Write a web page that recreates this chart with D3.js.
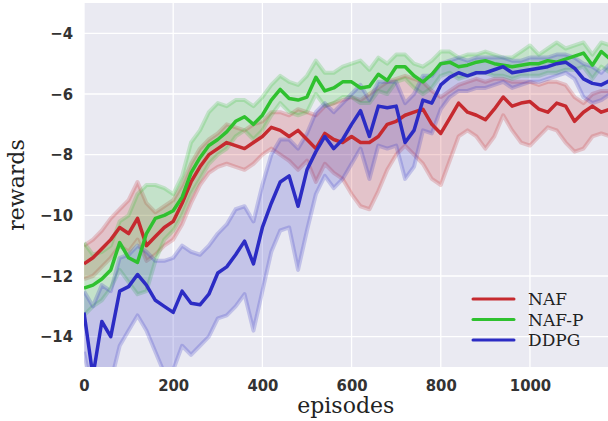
<!DOCTYPE html>
<html>
<head>
  <meta charset="UTF-8">
  <style>
    body { margin: 0; padding: 0; background: #fff; }
    svg { display: block; }
    .tick text { font-family: "DejaVu Sans Condensed", "DejaVu Sans", sans-serif; font-weight: bold; font-size: 16.5px; fill: #333; }
    .label { font-family: "DejaVu Serif", serif; font-size: 22px; fill: #222; }
    .legend text { font-family: "DejaVu Serif", serif; font-size: 17px; fill: #222; }
  </style>
</head>
<body>
  <svg width="608" height="421"></svg>
  <script src="https://d3js.org/d3.v7.min.js"></script>
  <script>
    // episodes sampled every 20
    const episodes = d3.range(0, 1181, 20);

    const nafMean = [-11.6,-11.4,-11.1,-10.8,-10.4,-10.6,-10.1,-11.0,-10.7,-10.4,-10.2,-9.6,-8.9,-8.4,-8.0,-7.8,-7.6,-7.7,-7.8,-7.6,
      -7.4,-7.1,-7.2,-7.4,-7.2,-7.5,-7.8,-7.3,-7.5,-7.6,-7.4,-7.6,-7.6,-7.4,-7.0,-6.9,-6.7,-6.6,-6.5,-7.0,
      -7.3,-6.8,-6.3,-6.6,-6.7,-6.85,-6.5,-6.1,-6.4,-6.3,-6.25,-6.5,-6.6,-6.3,-6.4,-6.9,-6.6,-6.4,-6.6,-6.5];
    const nafUpper = [-11.0,-10.8,-10.5,-10.1,-9.8,-9.5,-8.9,-9.6,-9.9,-9.7,-9.5,-9.0,-8.3,-7.8,-7.5,-7.3,-7.0,-7.1,-7.2,-7.0,
      -6.9,-6.6,-6.6,-6.7,-6.5,-6.6,-6.7,-6.4,-6.3,-6.2,-6.1,-6.2,-6.0,-5.8,-5.6,-5.5,-5.4,-5.5,-5.6,-5.9,
      -6.1,-5.9,-5.7,-5.6,-5.5,-5.6,-5.5,-5.5,-5.6,-5.6,-5.6,-5.7,-5.6,-5.6,-5.7,-6.1,-6.3,-6.0,-5.9,-5.9];
    const nafLower = [-12.1,-12.0,-11.7,-11.4,-11.0,-11.2,-10.8,-11.5,-11.3,-11.0,-10.8,-10.3,-9.6,-9.0,-8.6,-8.4,-8.3,-8.4,-8.5,-8.3,
      -8.0,-7.8,-8.0,-8.2,-8.5,-8.2,-8.9,-8.3,-8.6,-8.8,-9.3,-9.7,-9.8,-9.2,-8.5,-8.0,-7.7,-8.0,-8.3,-8.8,
      -9.0,-8.2,-7.4,-7.2,-7.4,-7.8,-7.4,-6.7,-7.2,-7.6,-7.7,-7.4,-7.1,-7.2,-7.6,-7.9,-7.8,-7.4,-7.3,-7.4];

    const nafpMean = [-12.4,-12.3,-12.1,-11.8,-10.9,-11.4,-11.55,-10.6,-10.1,-10.0,-9.85,-9.4,-8.6,-8.1,-7.7,-7.5,-7.25,-6.9,-6.75,-7.0,
      -6.7,-6.2,-5.85,-6.15,-6.2,-6.1,-5.45,-5.9,-5.8,-5.6,-5.6,-5.8,-5.75,-5.35,-5.55,-5.1,-5.1,-5.4,-5.6,-5.35,
      -5.0,-4.95,-5.1,-5.05,-4.95,-4.9,-5.0,-5.05,-5.1,-5.05,-5.0,-5.0,-4.9,-4.95,-4.85,-4.75,-4.65,-5.05,-4.6,-4.85];
    const nafpUpper = [-10.9,-11.3,-11.2,-11.0,-10.2,-10.0,-9.3,-9.0,-9.0,-9.1,-9.3,-8.7,-7.6,-7.2,-6.6,-6.3,-6.4,-6.2,-6.2,-6.4,
      -6.1,-5.7,-5.4,-5.6,-5.7,-5.4,-4.9,-5.3,-5.3,-5.1,-5.0,-4.9,-5.2,-4.8,-5.0,-4.7,-4.7,-5.0,-5.1,-4.9,
      -4.6,-4.6,-4.8,-4.7,-4.7,-4.6,-4.7,-4.8,-4.8,-4.6,-4.4,-4.7,-4.5,-4.3,-4.5,-4.4,-4.3,-4.7,-4.3,-4.4];
    const nafpLower = [-13.3,-13.0,-12.8,-12.4,-11.8,-12.2,-12.6,-12.5,-11.5,-10.8,-10.5,-10.0,-9.3,-8.8,-8.3,-8.0,-7.8,-7.4,-7.2,-7.5,
      -7.2,-6.7,-6.3,-6.6,-6.7,-6.6,-6.0,-6.4,-6.3,-6.1,-6.1,-6.3,-6.3,-5.9,-6.0,-5.6,-5.5,-5.8,-6.0,-5.8,
      -5.4,-5.3,-5.5,-5.4,-5.3,-5.3,-5.4,-5.4,-5.5,-5.4,-5.4,-5.4,-5.3,-5.3,-5.2,-5.2,-5.1,-5.5,-5.1,-5.3];

    const ddpgMean = [-13.2,-15.3,-13.5,-14.0,-12.5,-12.35,-11.95,-12.3,-12.8,-13.0,-13.2,-12.5,-12.9,-12.95,-12.6,-11.9,-11.7,-11.3,-10.85,-11.6,
      -10.4,-9.6,-8.9,-8.7,-9.7,-8.5,-7.9,-7.4,-7.8,-7.5,-7.0,-6.55,-7.4,-6.4,-6.45,-6.4,-7.6,-7.2,-6.2,-6.3,
      -5.7,-5.45,-5.3,-5.4,-5.3,-5.3,-5.2,-5.1,-5.3,-5.25,-5.2,-5.15,-5.1,-5.0,-4.95,-5.15,-5.5,-5.65,-5.7,-5.55];
    const ddpgUpper = [-12.5,-13.0,-12.3,-12.5,-11.4,-11.3,-11.0,-11.2,-11.5,-11.5,-11.4,-11.0,-11.2,-11.3,-11.0,-10.6,-10.3,-9.8,-9.7,-10.2,
      -9.0,-8.0,-7.5,-7.5,-7.8,-7.3,-6.6,-6.3,-6.6,-6.3,-6.0,-5.7,-6.2,-5.6,-5.6,-5.6,-6.3,-6.0,-5.4,-5.4,
      -5.0,-4.9,-4.8,-4.9,-4.8,-4.8,-4.8,-4.8,-4.9,-4.9,-4.8,-4.8,-4.8,-4.7,-4.7,-4.8,-5.0,-5.1,-5.3,-5.0];
    const ddpgLower = [-14.5,-16.0,-15.5,-15.5,-14.3,-13.8,-13.3,-13.8,-14.5,-15.2,-15.1,-14.3,-14.6,-14.3,-14.0,-13.4,-13.3,-13.0,-12.6,-13.8,
      -12.5,-11.2,-10.5,-10.4,-11.8,-10.5,-9.3,-8.7,-9.1,-8.8,-8.3,-7.8,-8.8,-7.7,-7.8,-7.7,-8.8,-8.4,-7.2,-7.3,
      -6.5,-6.1,-5.9,-5.9,-5.8,-5.8,-5.7,-5.6,-5.8,-5.7,-5.6,-5.6,-5.5,-5.4,-5.3,-5.5,-6.1,-6.3,-6.2,-6.0];

    const xTicks = [0, 200, 400, 600, 800, 1000];
    const yTicks = [-14, -12, -10, -8, -6, -4];

    const seriesList = [
      { name: "NAF", color: "#c62a2f", mean: nafMean, upper: nafUpper, lower: nafLower },
      { name: "NAF-P", color: "#2fc12f", mean: nafpMean, upper: nafpUpper, lower: nafpLower },
      { name: "DDPG", color: "#2c2cc4", mean: ddpgMean, upper: ddpgUpper, lower: ddpgLower }
    ];

    const margin = { left: 84, right: 0, top: 3, bottom: 54 };
    const width = 608, height = 421;
    const svg = d3.select("svg");

    const x = d3.scaleLinear().domain([0, 1175]).range([margin.left, width - margin.right]);
    const y = d3.scaleLinear().domain([-15, -3]).range([height - margin.bottom, margin.top]);

    svg.append("rect")
      .attr("x", margin.left).attr("y", margin.top)
      .attr("width", width - margin.right - margin.left)
      .attr("height", height - margin.bottom - margin.top)
      .attr("fill", "#eaeaf2");

    svg.append("defs").append("clipPath").attr("id", "clip")
      .append("rect")
      .attr("x", margin.left).attr("y", margin.top)
      .attr("width", width - margin.right - margin.left)
      .attr("height", height - margin.bottom - margin.top);

    // grid
    const grid = svg.append("g");
    grid.selectAll(".gx").data(xTicks).enter().append("line")
      .attr("x1", d => x(d)).attr("x2", d => x(d))
      .attr("y1", margin.top).attr("y2", height - margin.bottom)
      .attr("stroke", "#fff").attr("stroke-width", 1.3);
    grid.selectAll(".gy").data(yTicks).enter().append("line")
      .attr("x1", margin.left).attr("x2", width - margin.right)
      .attr("y1", d => y(d)).attr("y2", d => y(d))
      .attr("stroke", "#fff").attr("stroke-width", 1.3);

    const plot = svg.append("g").attr("clip-path", "url(#clip)");

    seriesList.forEach(s => {
      const rows = episodes.map((e, i) => ({ e, m: s.mean[i], u: s.upper[i], l: s.lower[i] }));
      const area = d3.area().x(d => x(d.e)).y0(d => y(d.l)).y1(d => y(d.u));
      plot.append("path").datum(rows)
        .attr("d", area)
        .attr("fill", s.color).attr("fill-opacity", 0.2);
      ["u", "l"].forEach(k => {
        plot.append("path").datum(rows)
          .attr("d", d3.line().x(d => x(d.e)).y(d => y(d[k])))
          .attr("fill", "none").attr("stroke", s.color)
          .attr("stroke-opacity", 0.22).attr("stroke-width", 4)
          .attr("stroke-linejoin", "round");
      });
    });

    seriesList.forEach(s => {
      const rows = episodes.map((e, i) => ({ e, m: s.mean[i] }));
      plot.append("path").datum(rows)
        .attr("d", d3.line().x(d => x(d.e)).y(d => y(d.m)))
        .attr("fill", "none").attr("stroke", s.color)
        .attr("stroke-width", 3.5).attr("stroke-linejoin", "round");
    });

    // axes
    const fmt = d => d < 0 ? "\u2212" + Math.abs(d) : String(d);
    svg.append("g")
      .attr("transform", `translate(0,${height - margin.bottom})`)
      .call(d3.axisBottom(x).tickValues(xTicks).tickFormat(fmt).tickSize(0).tickPadding(12))
      .call(g => g.select(".domain").remove());
    svg.append("g")
      .attr("transform", `translate(${margin.left},0)`)
      .call(d3.axisLeft(y).tickValues(yTicks).tickFormat(fmt).tickSize(0).tickPadding(11))
      .call(g => g.select(".domain").remove());

    svg.append("text").attr("class", "label")
      .attr("x", x(587)).attr("y", 413)
      .attr("text-anchor", "middle").text("episodes");
    svg.append("text").attr("class", "label")
      .attr("transform", `translate(24,${(margin.top + height - margin.bottom) / 2}) rotate(-90)`)
      .attr("text-anchor", "middle").text("rewards");

    // legend
    const legend = svg.append("g").attr("class", "legend");
    seriesList.forEach((s, i) => {
      const ly = 299 + i * 20.5;
      legend.append("line")
        .attr("x1", 473).attr("x2", 514).attr("y1", ly).attr("y2", ly)
        .attr("stroke", s.color).attr("stroke-width", 3).attr("stroke-linecap", "round");
      legend.append("text").attr("x", 528).attr("y", ly + 6).text(s.name);
    });
  </script>
</body>
</html>
